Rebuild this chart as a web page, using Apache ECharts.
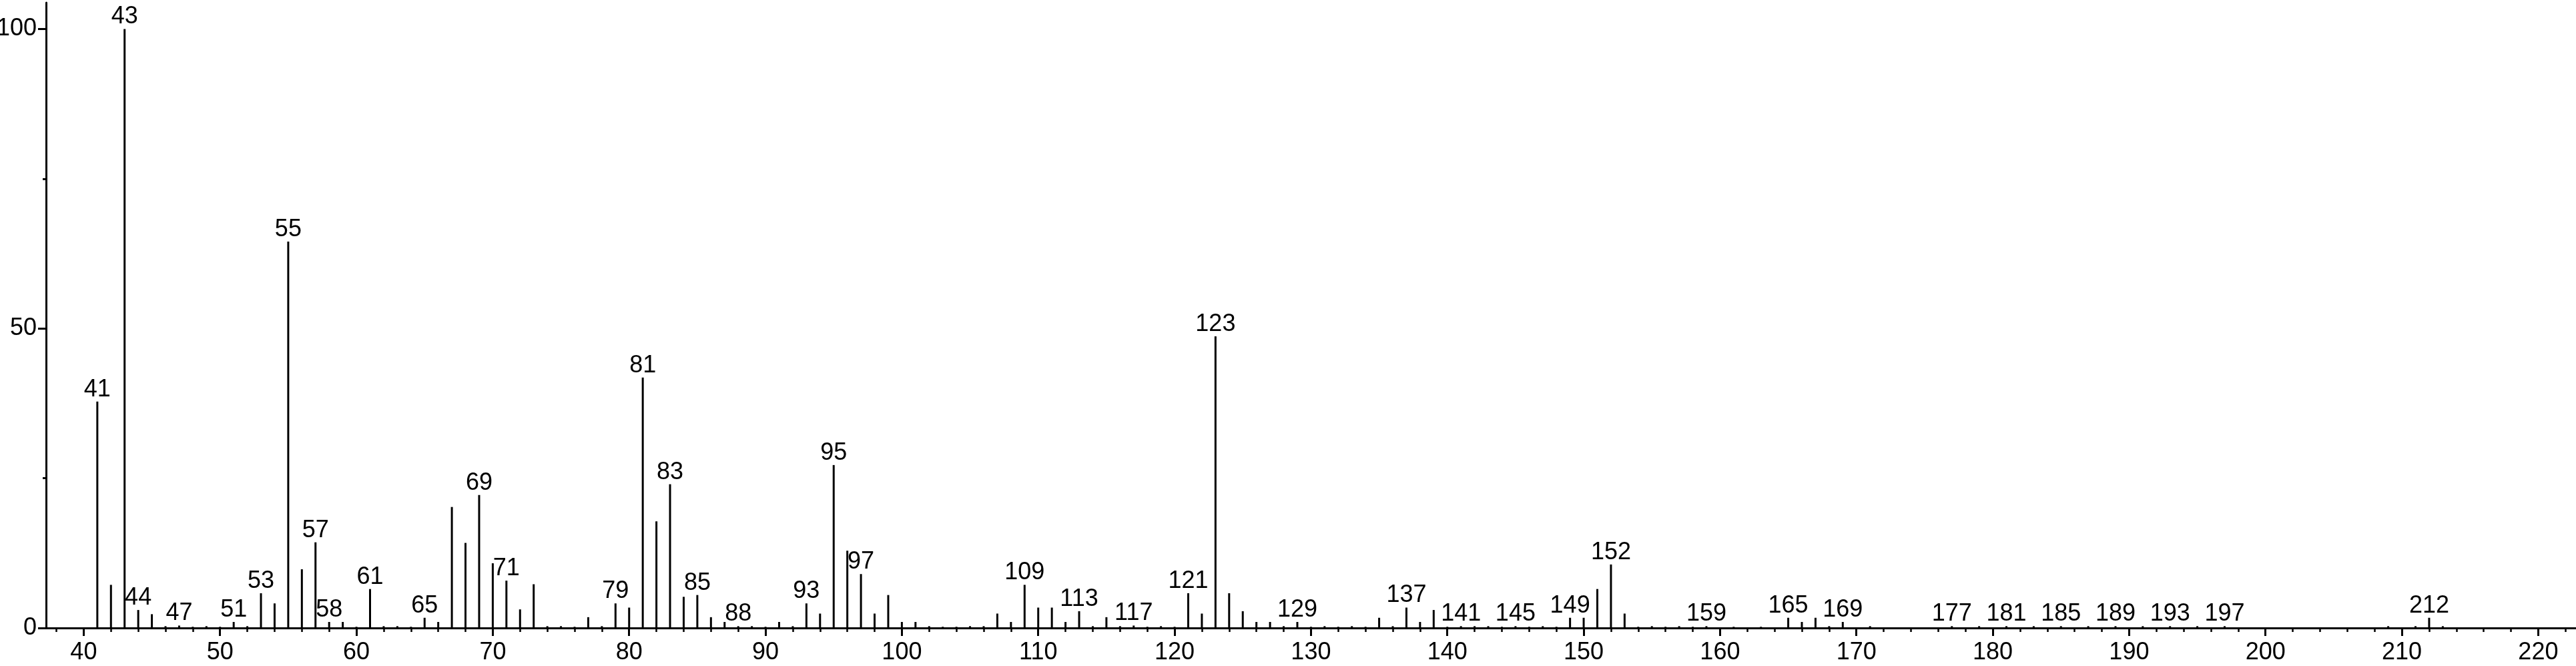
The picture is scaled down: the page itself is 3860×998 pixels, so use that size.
<!DOCTYPE html>
<html>
<head>
<meta charset="utf-8">
<script src="https://cdn.jsdelivr.net/npm/echarts@6/dist/echarts.min.js"></script>
<style>
html,body{margin:0;padding:0;background:#fff;}
#chart{width:3860px;height:998px;}
</style>
</head>
<body>
<div id="chart"></div>
<script>
// m/z values and relative intensities
var mz = [41,42,43,44,45,46,47,48,49,50,51,52,53,54,55,56,57,58,59,60,
  61,62,63,64,65,66,67,68,69,70,71,72,73,74,75,76,77,78,79,80,
  81,82,83,84,85,86,87,88,89,90,91,92,93,94,95,96,97,98,99,100,
  101,102,103,104,105,106,107,108,109,110,111,112,113,114,115,116,117,118,119,120,
  121,122,123,124,125,126,127,128,129,130,131,132,133,134,135,136,137,138,139,140,
  141,142,143,144,145,146,147,148,149,150,151,152,153,154,155,156,157,158,159,161,
  163,165,166,167,168,169,171,177,179,181,183,185,187,189,191,193,195,197,209,211,212,213];
var intensity = [37.8,7.2,100,3.0,2.3,0.3,0.4,0.2,0.3,0.2,1.0,0.3,5.8,4.1,64.5,9.8,14.3,1.0,1.0,0.2,
  6.5,0.3,0.3,0.2,1.7,1.0,20.2,14.2,22.2,10.8,7.9,3.1,7.3,0.3,0.3,0.2,1.8,0.3,4.1,3.4,
  41.8,17.8,24.0,5.2,5.5,1.8,1.0,0.3,0.3,0.2,1.0,0.3,4.1,2.4,27.2,12.9,9.0,2.4,5.5,1.0,
  1.0,0.3,0.2,0.2,0.3,0.3,2.4,1.0,7.2,3.4,3.4,1.0,2.8,0.3,1.8,0.3,0.4,0.2,0.3,0.2,
  5.8,2.4,48.7,5.8,2.8,1.0,1.0,0.3,1.0,0.2,0.3,0.2,0.3,0.2,1.7,0.3,3.4,1.0,3.0,0.2,
  0.3,0.3,0.3,0.2,0.3,0.2,0.3,0.2,1.7,1.7,6.5,10.6,2.4,0.2,0.3,0.2,0.3,0.2,0.3,0.2,
  0.2,1.7,1.0,1.7,0.3,1.0,0.3,0.3,0.3,0.3,0.3,0.3,0.3,0.3,0.3,0.3,0.3,0.3,0.3,0.3,1.7,0.3];
// peaks carrying an m/z label
var labeled = [41,43,44,47,51,53,55,57,58,61,65,69,71,79,81,83,85,88,93,95,97,
  109,113,117,121,123,129,137,141,145,149,152,159,165,169,177,181,185,189,193,197,212];
// axis ticks
var xMajorTicks = [40,50,60,70,80,90,100,110,120,130,140,150,160,170,180,190,200,210,220];
var xMinorTicks = [];
for (var t = 38; t <= 222; t += 2) { if (t % 10 !== 0) xMinorTicks.push(t); }
var yMajorTicks = [0,50,100];
var yMinorTicks = [25,75];

var FONT = 'Liberation Sans';
var data = mz.map(function (m, i) {
  var item = { value: [m, intensity[i]] };
  if (labeled.indexOf(m) >= 0) {
    item.label = { show: true };
  }
  return item;
});

var XMIN = 37.24, XMAX = 222.77, YMIN = 0, YMAX = 104.4;
var chart = echarts.init(document.getElementById('chart'), null, { renderer: 'canvas' });
chart.setOption({
  animation: false,
  backgroundColor: '#ffffff',
  grid: { left: 69, right: 0, top: 4, bottom: 57, containLabel: false, outerBoundsMode: 'none' },
  xAxis: [
    {
      type: 'value', min: XMIN, max: XMAX, position: 'bottom',
      axisLine: { show: true, onZero: false, lineStyle: { color: '#000', width: 3 } },
      axisTick: { show: true, customValues: xMajorTicks, length: 12, lineStyle: { color: '#000', width: 3 } },
      axisLabel: { show: true, customValues: xMajorTicks, margin: 19, color: '#000', fontFamily: FONT, fontSize: 36 },
      splitLine: { show: false }
    },
    {
      type: 'value', min: XMIN, max: XMAX, position: 'bottom', offset: 0,
      axisLine: { show: false, onZero: false },
      axisTick: { show: true, customValues: xMinorTicks, length: 6, lineStyle: { color: '#000', width: 2.5 } },
      axisLabel: { show: false },
      splitLine: { show: false }
    }
  ],
  yAxis: [
    {
      type: 'value', min: YMIN, max: YMAX, position: 'left',
      axisLine: { show: true, onZero: false, lineStyle: { color: '#000', width: 3 } },
      axisTick: { show: true, customValues: yMajorTicks, length: 12, lineStyle: { color: '#000', width: 3 } },
      axisLabel: { show: true, customValues: yMajorTicks, margin: 14, color: '#000', fontFamily: FONT, fontSize: 36 },
      splitLine: { show: false }
    },
    {
      type: 'value', min: YMIN, max: YMAX, position: 'left', offset: 0,
      axisLine: { show: false, onZero: false },
      axisTick: { show: true, customValues: yMinorTicks, length: 5, lineStyle: { color: '#000', width: 3 } },
      axisLabel: { show: false },
      splitLine: { show: false }
    }
  ],
  series: [{
    type: 'bar',
    xAxisIndex: 0, yAxisIndex: 0,
    barWidth: 3,
    itemStyle: { color: '#000' },
    label: {
      show: false, position: 'top', distance: 0,
      color: '#000', fontFamily: FONT, fontSize: 36,
      formatter: function (p) { return String(p.value[0]); }
    },
    data: data
  }]
});
</script>
</body>
</html>
